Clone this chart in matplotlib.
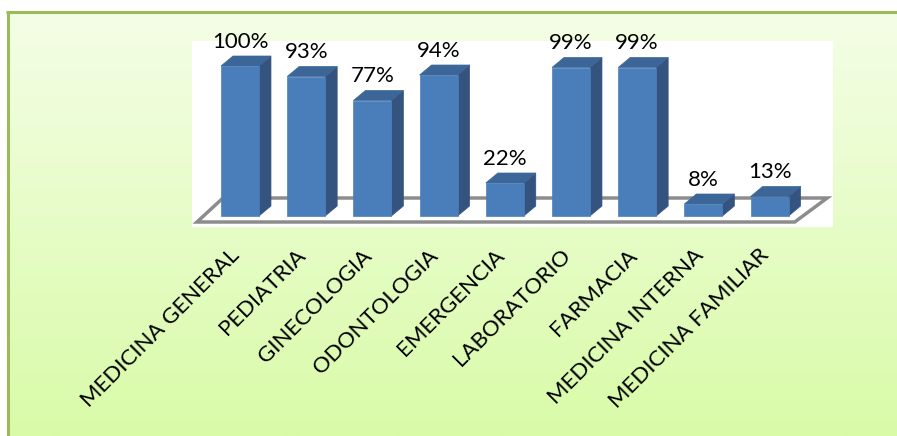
import numpy as np
import matplotlib
matplotlib.use('Agg')
import matplotlib.pyplot as plt
from matplotlib.patches import Polygon, Rectangle
from matplotlib.colors import LinearSegmentedColormap

plt.rcParams['font.family'] = ['Lato', 'DejaVu Sans']

# data
categorias = ['MEDICINA GENERAL', 'PEDIATRIA', 'GINECOLOGIA', 'ODONTOLOGIA', 'EMERGENCIA',
              'LABORATORIO', 'FARMACIA', 'MEDICINA INTERNA', 'MEDICINA FAMILIAR']
porcentajes = [100, 93, 77, 94, 22, 99, 99, 8, 13]

W, H = 897, 436
fig = plt.figure(figsize=(W / 100, H / 100), dpi=100)

# background with green gradient and border (pixel coords)
bg = fig.add_axes([0, 0, 1, 1])
grad = np.linspace(0, 1, 256)[:, None]
cmap = LinearSegmentedColormap.from_list('verde', ['#F4FEE6', '#D9FBA8'])
bg.imshow(grad, extent=[8, W, H, 13], cmap=cmap, aspect='auto', interpolation='bilinear')
bg.plot([7.5, 7.5], [H, 12.5], color='#9BBB59', lw=2.2, solid_capstyle='butt')
bg.plot([6.4, W], [12.5, 12.5], color='#9BBB59', lw=2.2, solid_capstyle='butt')
bg.set_xlim(0, W)
bg.set_ylim(H, 0)
bg.axis('off')

# plot area
ax = fig.add_axes([192 / W, (H - 227) / H, (833 - 192) / W, (227 - 41) / H])
ax.set_xlim(-0.725, 8.958)
ax.set_ylim(-7.33, 116.67)
ax.set_facecolor('white')
for s in ax.spines.values():
    s.set_visible(False)
ax.set_xticks([])
ax.set_yticks([])

# floor
piso = Polygon([(-0.65, -4), (8.38, -4), (8.87, 12), (-0.257, 12)], closed=True,
               facecolor='white', edgecolor='#8C8C8C', lw=2.5, zorder=1)
ax.add_patch(piso)

bw = 0.574   # bar width
dx = 0.181   # depth offset x
dy = 6.67    # depth offset y
c_front = '#4A7EBB'
c_side = '#34547F'
c_top = '#3C6598'

for i, v in enumerate(porcentajes):
    x0 = i - bw / 2
    x1 = i + bw / 2
    ax.add_patch(Polygon([(x1, 0), (x1 + dx, dy), (x1 + dx, v + dy), (x1, v)],
                         facecolor=c_side, edgecolor=c_side, lw=0.5, zorder=2))
    ax.add_patch(Polygon([(x0, v), (x1, v), (x1 + dx, v + dy), (x0 + dx, v + dy)],
                         facecolor=c_top, edgecolor=c_top, lw=0.5, zorder=2))
    ax.add_patch(Rectangle((x0, 0), bw, v, facecolor=c_front, edgecolor=c_front,
                           lw=0.5, zorder=3))
    ax.text(i, v + dy + 5.5, f'{v}%', ha='center', va='baseline', fontsize=16,
            color='black', zorder=4)
    ax.text(i - 0.16, -19.5, categorias[i], rotation=45, rotation_mode='anchor',
            ha='right', va='top', fontsize=16, color='black')

fig.savefig('out.png', dpi=100)
